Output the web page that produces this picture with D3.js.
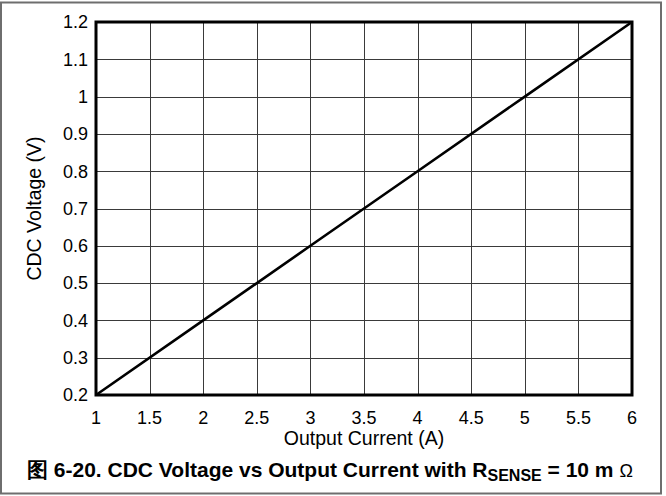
<!DOCTYPE html>
<html>
<head>
<meta charset="utf-8">
<script src="https://cdn.jsdelivr.net/npm/d3@7"></script>
<style>
  body { margin: 0; background: #fff; }
  svg text { font-family: "Liberation Sans", Arial, sans-serif; fill: #000; }
</style>
</head>
<body>
<svg id="chart" width="666" height="496"></svg>
<script>
// data
var current = [1, 2, 3, 4, 5, 6];
var voltage = [0.2, 0.4, 0.6, 0.8, 1.0, 1.2];
var xTicks = [1, 1.5, 2, 2.5, 3, 3.5, 4, 4.5, 5, 5.5, 6];
var yTicks = [0.2, 0.3, 0.4, 0.5, 0.6, 0.7, 0.8, 0.9, 1, 1.1, 1.2];

// plot box (note: "top" is taken by window.top)
var pL = 96, pR = 632, pT = 22, pB = 395;

var svg = d3.select("#chart");

// outer frame
svg.append("rect").attr("x", 1).attr("y", 2.5).attr("width", 660).attr("height", 491)
  .attr("fill", "none").attr("stroke", "#6e6e6e").attr("stroke-width", 2);

var x = d3.scaleLinear().domain([1, 6]).range([pL, pR]);
var y = d3.scaleLinear().domain([0.2, 1.2]).range([pB, pT]);

// grid
svg.append("g").selectAll("line").data(xTicks).enter().append("line")
  .attr("x1", d => Math.round(x(d)) + 0.5).attr("x2", d => Math.round(x(d)) + 0.5)
  .attr("y1", pT).attr("y2", pB)
  .attr("stroke", "#3a3a3a").attr("stroke-width", 1);
svg.append("g").selectAll("line").data(yTicks).enter().append("line")
  .attr("y1", d => Math.round(y(d)) + 0.5).attr("y2", d => Math.round(y(d)) + 0.5)
  .attr("x1", pL).attr("x2", pR)
  .attr("stroke", "#3a3a3a").attr("stroke-width", 1);

// plot frame
svg.append("rect").attr("x", pL).attr("y", pT).attr("width", pR - pL).attr("height", pB - pT)
  .attr("fill", "none").attr("stroke", "#000").attr("stroke-width", 3);

// tick labels
svg.append("g").selectAll("text").data(xTicks).enter().append("text")
  .attr("x", d => x(d)).attr("y", 424)
  .attr("text-anchor", "middle").attr("font-size", 18)
  .text(d => d);
svg.append("g").selectAll("text").data(yTicks).enter().append("text")
  .attr("x", 88).attr("y", d => y(d)).attr("dy", "0.35em")
  .attr("text-anchor", "end").attr("font-size", 18)
  .text(d => d);

// data line
var line = d3.line().x((d, i) => x(current[i])).y(d => y(d));
svg.append("path").datum(voltage).attr("d", line)
  .attr("fill", "none").attr("stroke", "#000").attr("stroke-width", 2.6);

// axis titles
svg.append("text").attr("x", (pL + pR) / 2).attr("y", 445)
  .attr("text-anchor", "middle").attr("font-size", 19.5).text("Output Current (A)");
svg.append("text").attr("transform", "translate(41," + ((pT + pB) / 2) + ") rotate(-90)")
  .attr("text-anchor", "middle").attr("font-size", 19.5).text("CDC Voltage (V)");

// caption
var cap = svg.append("text").attr("x", 27).attr("y", 477)
  .attr("font-size", 21).attr("font-weight", "bold");
cap.append("tspan").text("图 6-20. CDC Voltage vs Output Current with R");
cap.append("tspan").attr("font-size", 16).attr("dy", 4).text("SENSE");
cap.append("tspan").attr("dy", -4).text(" = 10 m ");
cap.append("tspan").attr("font-weight", "normal").attr("font-size", 18).text("Ω");
</script>
</body>
</html>
